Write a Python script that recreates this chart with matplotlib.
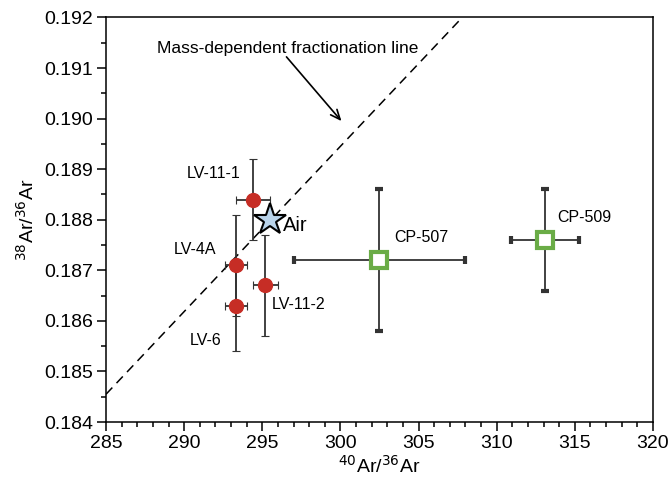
import numpy as np
import matplotlib.pyplot as plt
from matplotlib.ticker import MultipleLocator, FormatStrFormatter

plt.rcParams['font.family'] = ['Liberation Sans', 'DejaVu Sans']

# LV samples (red circles)
lv_names = ["LV-11-1", "LV-4A", "LV-6", "LV-11-2"]
lv_x = [294.4, 293.3, 293.3, 295.2]
lv_y = [0.1884, 0.1871, 0.1863, 0.1867]
lv_xerr = [1.1, 0.7, 0.7, 0.8]
lv_yerr = [0.0008, 0.0010, 0.0009, 0.0010]
lv_label_pos = [(291.9, 0.18891), (290.7, 0.18742), (291.4, 0.18562), (297.3, 0.18633)]

# CP samples (green open squares)
cp_names = ["CP-507", "CP-509"]
cp_x = [302.5, 313.1]
cp_y = [0.1872, 0.1876]
cp_xerr = [5.5, 2.2]
cp_yerr = [0.0014, 0.0010]
cp_label_pos = [(305.2, 0.18765), (315.6, 0.18805)]

# air
air_x, air_y = 295.5, 0.1880

# mass-dependent fractionation line endpoints
frac_x = [285.0, 307.8]
frac_y = [0.18455, 0.1920]

fig, ax = plt.subplots(figsize=(6.71, 4.84), dpi=100)
fig.subplots_adjust(left=0.158, right=0.973, bottom=0.128, top=0.964)

ax.plot(frac_x, frac_y, color='black', linestyle=(0, (6, 4)), linewidth=1.1, zorder=1)

ax.errorbar(lv_x, lv_y, xerr=lv_xerr, yerr=lv_yerr, fmt='o', color='#c62d25',
            markersize=10, ecolor='#333333', elinewidth=1.3, capsize=3, capthick=0.8, zorder=3)
ax.errorbar(cp_x, cp_y, xerr=cp_xerr, yerr=cp_yerr, fmt='s', markerfacecolor='white',
            markeredgecolor='#6aac46', markeredgewidth=3, markersize=11,
            ecolor='#333333', elinewidth=1.3, capsize=3, capthick=0.8, zorder=3)
ax.plot(air_x, air_y, marker='*', markersize=24, markerfacecolor='#b9d3ea',
        markeredgecolor='black', markeredgewidth=1.5, linestyle='None', zorder=4)

for name, (tx, ty) in zip(lv_names, lv_label_pos):
    ax.text(tx, ty, name, ha='center', va='center', fontsize=11.5)
for name, (tx, ty) in zip(cp_names, cp_label_pos):
    ax.text(tx, ty, name, ha='center', va='center', fontsize=11.5)
ax.text(296.3, 0.18788, "Air", ha='left', va='center', fontsize=14.5)

ax.text(296.6, 0.19139, "Mass-dependent fractionation line", ha='center', va='center', fontsize=12.5)
ax.annotate("", xy=(300.07, 0.18995), xytext=(296.55, 0.19122),
            arrowprops=dict(arrowstyle='->,head_length=0.7,head_width=0.3', color='black',
                            lw=1.2, shrinkA=0, shrinkB=0))

ax.set_xlim(285, 320)
ax.set_ylim(0.184, 0.192)
ax.xaxis.set_major_locator(MultipleLocator(5))
ax.xaxis.set_minor_locator(MultipleLocator(1))
ax.yaxis.set_major_locator(MultipleLocator(0.001))
ax.yaxis.set_minor_locator(MultipleLocator(0.0005))
ax.yaxis.set_major_formatter(FormatStrFormatter('%.3f'))
ax.tick_params(which='major', direction='out', length=6.5, width=1.1, labelsize=14, pad=3)
ax.tick_params(which='minor', direction='out', length=3.5, width=1.1)
for s in ax.spines.values():
    s.set_linewidth(1.1)

ax.set_xlabel(r"$^{40}$Ar/$^{36}$Ar", fontsize=14, labelpad=2)
ax.set_ylabel(r"$^{38}$Ar/$^{36}$Ar", fontsize=14, labelpad=4)

fig.savefig("out.png", dpi=100)
